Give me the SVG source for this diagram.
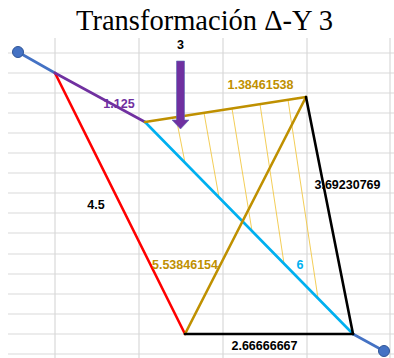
<svg xmlns="http://www.w3.org/2000/svg" width="394" height="358" viewBox="0 0 394 358">
<style>
.grid line{stroke:#d9d9d9;stroke-width:1.2}
.lbl{font-family:"Liberation Sans",Arial,sans-serif;font-weight:bold;font-size:12.5px;text-anchor:middle}
.title{font-family:"Liberation Serif","Times New Roman",serif;font-size:28.5px;text-anchor:middle;fill:#000}
.e{fill:none;stroke-width:2.6;stroke-linecap:round}
.hatch line{stroke:#f2c744;stroke-width:0.9}
.dot{fill:#4472c4;stroke:#2f5597;stroke-width:1}
</style>
<rect width="394" height="358" fill="#fff"/>
<g class="grid" id="grid">
<line x1="8" y1="53" x2="394" y2="53"/>
<line x1="8" y1="73" x2="394" y2="73"/>
<line x1="8" y1="93" x2="394" y2="93"/>
<line x1="8" y1="113" x2="394" y2="113"/>
<line x1="8" y1="133" x2="394" y2="133"/>
<line x1="8" y1="153" x2="394" y2="153"/>
<line x1="8" y1="173" x2="394" y2="173"/>
<line x1="8" y1="193" x2="394" y2="193"/>
<line x1="8" y1="213" x2="394" y2="213"/>
<line x1="8" y1="233" x2="394" y2="233"/>
<line x1="8" y1="254" x2="394" y2="254"/>
<line x1="8" y1="274" x2="394" y2="274"/>
<line x1="8" y1="294" x2="394" y2="294"/>
<line x1="8" y1="314" x2="394" y2="314"/>
<line x1="8" y1="334" x2="394" y2="334"/>
<line x1="8" y1="354" x2="394" y2="354"/>
<line x1="55" y1="38" x2="55" y2="358"/>
<line x1="139" y1="38" x2="139" y2="358"/>
<line x1="223" y1="38" x2="223" y2="358"/>
<line x1="307" y1="38" x2="307" y2="358"/>
<line x1="390" y1="38" x2="390" y2="358"/>
</g>
<text class="title" x="204.5" y="30">Transformación Δ-Y 3</text>
<g id="connectors">
<g class="hatch">
<line x1="176" y1="117.2" x2="185" y2="162.8"/>
<line x1="204" y1="112.8" x2="219" y2="197.4"/>
<line x1="232" y1="108.5" x2="252" y2="231"/>
<line x1="260" y1="104.2" x2="284" y2="263.6"/>
<line x1="288" y1="99.8" x2="318" y2="298.3"/>
</g>
<line class="e" x1="18" y1="52" x2="55" y2="73" stroke="#4472c4"/>
<line class="e" x1="353" y1="334" x2="384" y2="351" stroke="#4472c4"/>
<line class="e" x1="55" y1="73" x2="185" y2="334" stroke="#ff0000"/>
<line class="e" x1="55" y1="73" x2="145" y2="122" stroke="#7030a0"/>
<line class="e" x1="145" y1="122" x2="353" y2="334" stroke="#00b0f0"/>
<line class="e" x1="145" y1="122" x2="306" y2="97" stroke="#bf9000"/>
<line class="e" x1="185" y1="334" x2="306" y2="97" stroke="#bf9000"/>
<line class="e" x1="306" y1="97" x2="353" y2="334" stroke="#000"/>
<line class="e" x1="185" y1="334" x2="353" y2="334" stroke="#000"/>
</g>
<g id="arrow">
<polygon points="176.5,61 184.5,61 184.5,120 189,120 180.5,129 172,120 176.5,120" fill="#7030a0" stroke="#5b6fb5" stroke-width="0.6"/>
</g>
<g id="node-tl"><circle class="dot" cx="18" cy="52" r="5.5"/></g>
<g id="node-br"><circle class="dot" cx="384" cy="351" r="5.5"/></g>
<g id="labels">
<text class="lbl" x="180.5" y="49" fill="#000">3</text>
<text class="lbl" x="119" y="108" fill="#7030a0">1.125</text>
<text class="lbl" x="260.5" y="89" fill="#bf9000">1.38461538</text>
<text class="lbl" x="96" y="209" fill="#000">4.5</text>
<text class="lbl" x="347.5" y="189" fill="#000">3.69230769</text>
<text class="lbl" x="185" y="269" fill="#bf9000">5.53846154</text>
<text class="lbl" x="300" y="269" fill="#00b0f0">6</text>
<text class="lbl" x="264.5" y="350" fill="#000">2.66666667</text>
</g>
</svg>
